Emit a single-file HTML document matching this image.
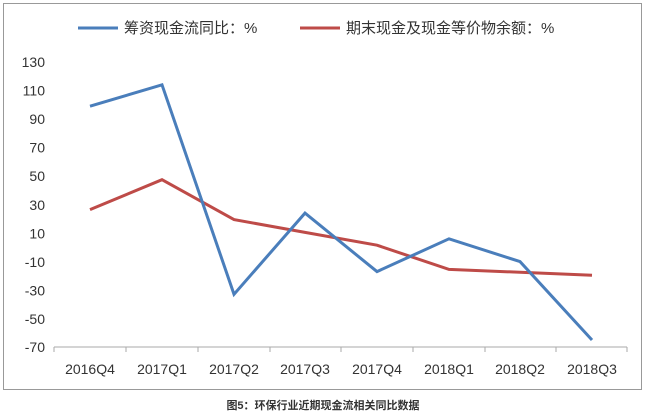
<!DOCTYPE html>
<html><head><meta charset="utf-8"><style>
body{margin:0;background:#fff;}
svg text{font-family:"Liberation Sans","Noto Sans CJK SC",sans-serif;fill:#333;}
</style></head><body>
<svg width="647" height="413" xmlns="http://www.w3.org/2000/svg">
<rect x="3.5" y="3.5" width="638" height="386" fill="#fff" stroke="#999" stroke-width="1"/>
<line x1="78" y1="28" x2="118" y2="28" stroke="#4a7ebb" stroke-width="3"/>
<text x="124" y="33" font-size="15">筹资现金流同比：%</text>
<line x1="300" y1="28" x2="340" y2="28" stroke="#be4b48" stroke-width="3"/>
<text x="346" y="33" font-size="15">期末现金及现金等价物余额：%</text>
<g font-size="14" text-anchor="end">
<text x="45" y="67">130</text><text x="45" y="95.5">110</text><text x="45" y="124">90</text><text x="45" y="152.5">70</text><text x="45" y="181">50</text><text x="45" y="210">30</text><text x="45" y="238.5">10</text><text x="45" y="267">-10</text><text x="45" y="295.5">-30</text><text x="45" y="324">-50</text><text x="45" y="352">-70</text>
</g>
<line x1="54" y1="347" x2="627" y2="347" stroke="#aaa" stroke-width="1"/>
<g stroke="#aaa"><line x1="54" y1="347" x2="54" y2="352"/><line x1="126" y1="347" x2="126" y2="352"/><line x1="198" y1="347" x2="198" y2="352"/><line x1="270" y1="347" x2="270" y2="352"/><line x1="341" y1="347" x2="341" y2="352"/><line x1="413" y1="347" x2="413" y2="352"/><line x1="485" y1="347" x2="485" y2="352"/><line x1="556" y1="347" x2="556" y2="352"/><line x1="627" y1="347" x2="627" y2="352"/></g>
<g font-size="14" text-anchor="middle">
<text x="90" y="374">2016Q4</text><text x="162" y="374">2017Q1</text><text x="234" y="374">2017Q2</text><text x="305" y="374">2017Q3</text><text x="377" y="374">2017Q4</text><text x="449" y="374">2018Q1</text><text x="520" y="374">2018Q2</text><text x="592" y="374">2018Q3</text>
</g>
<polyline fill="none" stroke="#be4b48" stroke-width="3" points="90,209.6 162,179.7 234,219.6 305,232.4 377,245.2 449,269.4 520,272.3 592,275.2"/>
<polyline fill="none" stroke="#4a7ebb" stroke-width="3" points="90,106.2 162,84.8 234,294.3 305,213.1 377,271.6 449,238.8 520,261.6 592,340"/>
<text x="323" y="409" font-size="11" font-weight="bold" text-anchor="middle" fill="#555">图5：环保行业近期现金流相关同比数据</text>
</svg>
</body></html>
